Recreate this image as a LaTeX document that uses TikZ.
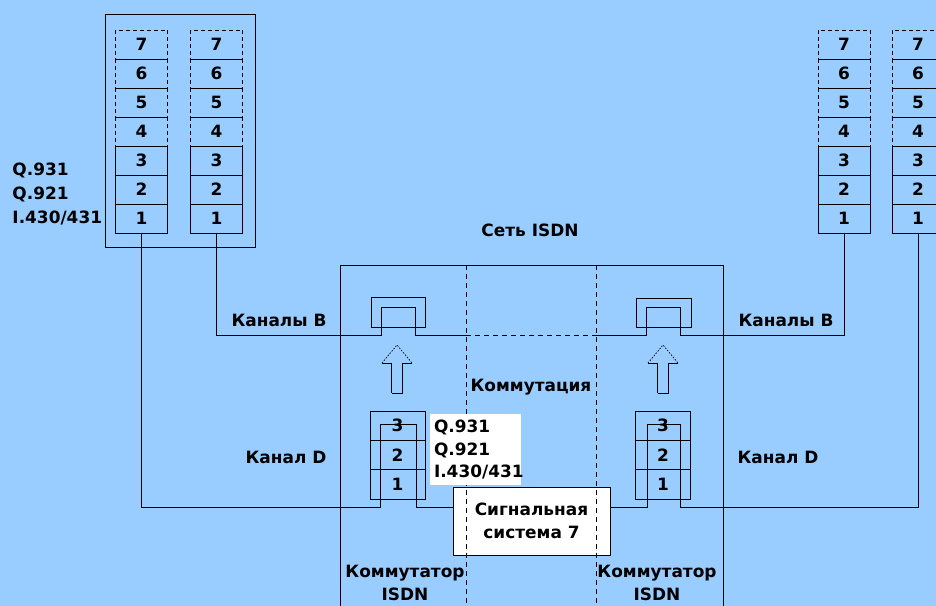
\documentclass[tikz,border=0pt]{standalone}
\usepackage{fontspec}
\setmainfont{DejaVu Sans}
\definecolor{bgblue}{RGB}{153,204,255}
\begin{document}
\begin{tikzpicture}[x=1bp,y=-1bp,line width=0.9bp,
  txt/.style={font=\bfseries\fontsize{17}{23}\selectfont,inner sep=0pt,align=center},
  cell/.style={draw,minimum width=52bp,minimum height=29bp,inner sep=0pt,font=\bfseries\fontsize{17}{20}\selectfont},
  dcell/.style={cell,dash pattern=on 4bp off 3bp},
  ddash/.style={dash pattern=on 5bp off 4bp},
  dcellsw/.style={draw,minimum width=55bp,minimum height=29.33bp,inner sep=0pt,font=\bfseries\fontsize{17}{20}\selectfont},
  whitebox/.style={fill=white,inner sep=0pt}]
% background
\fill[bgblue] (0,0) rectangle (936,606);
\useasboundingbox (0,0) rectangle (936,606);
% left terminal box
\node[draw,minimum width=150bp,minimum height=233bp,inner sep=0pt] (termL) at (180,130.5) {};
% protocol stacks
\foreach \s/\x in {1/141.5,2/216.5,3/844,4/918}{
  \foreach \r in {7,6,5,4}{
    \node[dcell] (s\s-\r) at (\x,{233-(\r-0.5)*29}) {\r};
  }
  \foreach \r in {3,2,1}{
    \node[cell] (s\s-\r) at (\x,{233-(\r-0.5)*29}) {\r};
  }
}
% ISDN switch area
\coordinate (swTL) at (340,265);
\coordinate (swTR) at (723,265);
\draw (340,606) -- (swTL) -- (swTR) -- (723,606);
% B-channel boxes
\node[draw,minimum width=54bp,minimum height=30bp,inner sep=0pt] (bL) at (398,312) {};
\node[draw,minimum width=55bp,minimum height=29bp,inner sep=0pt] (bR) at (663.5,312.5) {};
\coordinate (bLa) at (381,335); \coordinate (bLb) at (381,307);
\coordinate (bLc) at (415,307); \coordinate (bLd) at (415,335);
\coordinate (bRa) at (646,335); \coordinate (bRb) at (646,307);
\coordinate (bRc) at (680,307); \coordinate (bRd) at (680,335);
\coordinate (kA) at (466,335); \coordinate (kB) at (596,335);
\draw (s2-1.south) |- (bLa) -- (bLb) -- (bLc) -- (bLd) -- (kA);
\draw[ddash] (kA) -- (kB);
\draw (kB) -- (bRa) -- (bRb) -- (bRc) -- (bRd) -| (s3-1.south);
% D-channel stacks
\foreach \n/\x in {L/397.5,R/663}{
  \node[dcellsw] (d\n-3) at (\x,425.67) {3};
  \node[dcellsw] (d\n-2) at (\x,455) {2};
  \node[dcellsw] (d\n-1) at (\x,484.33) {1};
}
\coordinate (dLa) at (380,507); \coordinate (dLb) at (380,424);
\coordinate (dLc) at (416,424); \coordinate (dLd) at (416,507);
\coordinate (dRa) at (647,507); \coordinate (dRb) at (647,424);
\coordinate (dRc) at (680,424); \coordinate (dRd) at (680,507);
% signalling system box
\node[draw,fill=white,minimum width=157bp,minimum height=68bp,inner sep=0pt,txt] (sig) at (531.5,521) {Сигнальная\\система 7};
\draw (s1-1.south) |- (dLa) -- (dLb) -- (dLc) -- (dLd) -- (sig.west |- dLd);
\draw (sig.east |- dRa) -- (dRa) -- (dRb) -- (dRc) -- (dRd) -| (s4-1.south);
% dashed partitions
\draw[ddash] (466,265) -- (466,606);
\draw[ddash] (596,265) -- (596,606);
% hollow arrows
\foreach \cx/\nm in {397/aL,663/aR}{
  \coordinate (\nm-tip) at (\cx,345);
  \draw ({\cx-5.5},393) -- ({\cx-5.5},363) -- ({\cx-15},363);
  \draw[dash pattern=on 1.5bp off 1.5bp,line width=0.7bp] ({\cx-15},363) -- (\nm-tip) -- ({\cx+15},363);
  \draw ({\cx+15},363) -- ({\cx+5.5},363) -- ({\cx+5.5},393) -- ({\cx-5.5},393);
}
% white protocol label box
\node[whitebox,minimum width=91bp,minimum height=71bp,text width=83bp,inner xsep=4bp,align=left,font=\bfseries\fontsize{17}{23}\selectfont] (qbox) at (475.5,449.5) {Q.931\\Q.921\\I.430/431};
% labels
\node[txt,anchor=west,align=left,font=\bfseries\fontsize{17}{24}\selectfont] (qL) at (12,194) {Q.931\\Q.921\\I.430/431};
\node[txt] (net) at (530,230) {Сеть ISDN};
\node[txt] (kom) at (531,387) {Коммутация};
\node[txt] (chBL) at (279,320) {Каналы B};
\node[txt] (chBR) at (786,320) {Каналы B};
\node[txt] (chDL) at (286,457) {Канал D};
\node[txt] (chDR) at (778,457) {Канал D};
\node[txt] (swL) at (405,582.5) {Коммутатор\\ISDN};
\node[txt] (swR) at (657,582.5) {Коммутатор\\ISDN};
\end{tikzpicture}
\end{document}
